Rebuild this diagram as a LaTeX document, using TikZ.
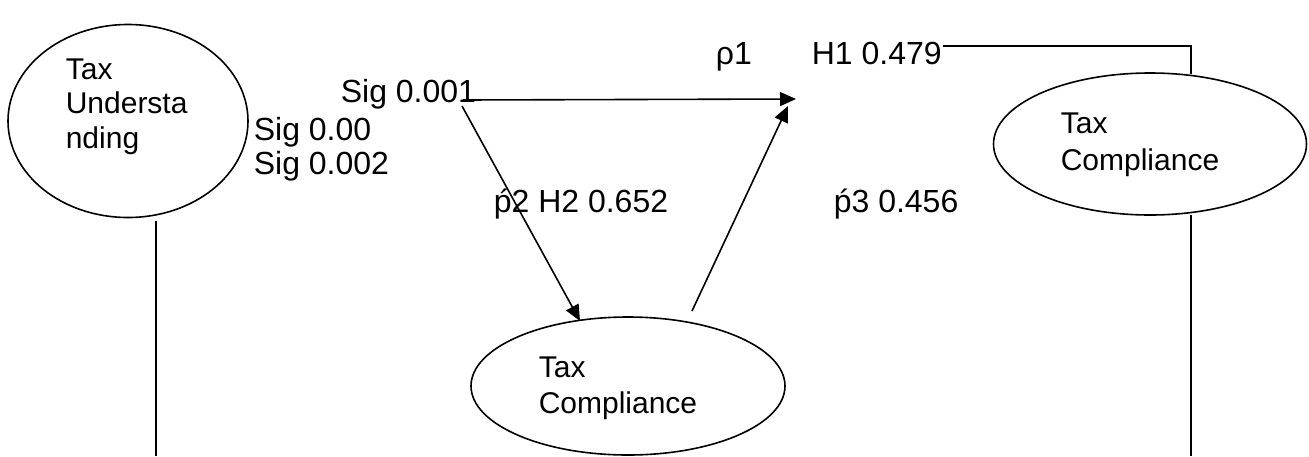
\documentclass[tikz,border=0pt]{standalone}
\usepackage{fontspec}
\setmainfont{Liberation Sans}
\usetikzlibrary{shapes.geometric,arrows.meta}
\begin{document}
\begin{tikzpicture}[x=1pt,y=-1pt, line width=1.6pt,
  lbl/.style={anchor=base west, inner sep=0pt, font=\fontsize{32}{35}\selectfont},
  etxt/.style={anchor=base west, inner sep=0pt, font=\fontsize{30}{35}\selectfont},
  oval/.style={draw, ellipse, inner sep=0pt, line width=1.6pt},
  arr/.style={-{Triangle[length=16pt,width=14pt]}},
  conn/.style={line width=1.6pt}]
\useasboundingbox (0,0) rectangle (1309,456);
% ovals
\node[oval, minimum width=240pt, minimum height=193pt] (tu) at (128,121) {};
\node[oval, minimum width=313pt, minimum height=142pt] (tcr) at (1150,144) {};
\node[oval, minimum width=314pt, minimum height=138pt] (tcb) at (628,386) {};
% oval texts
\node[etxt] (tu1) at (65,79) {Tax};
\node[etxt] (tu2) at (65,113) {Understa};
\node[etxt] (tu3) at (65,148) {nding};
\node[etxt] (tcr1) at (1060,133) {Tax};
\node[etxt] (tcr2) at (1060,170) {Compliance};
\node[etxt] (tcb1) at (538,377) {Tax};
\node[etxt] (tcb2) at (538,413) {Compliance};
% labels
\node[lbl] (s1) at (253,140) {Sig 0.00};
\node[lbl] (s2) at (253,174) {Sig 0.002};
\node[lbl] (s3) at (340,102) {Sig 0.001};
\node[lbl] (rho) at (715,64) {ρ1};
\node[lbl] (h1) at (811,64) {H1 0.479};
\node[lbl] (p2) at (493,212) {ṕ2 H2 0.652};
\node[lbl] (p3) at (833,212) {ṕ3 0.456};
% coordinates
\coordinate (a1s) at (463,100);
\coordinate (a1e) at (796,99);
\coordinate (a2s) at (462,106);
\coordinate (a2e) at (580,321);
\coordinate (a3s) at (692,311);
\coordinate (a3e) at (788,106);
\coordinate (h1e) at (943,46);
\coordinate (rc) at (1191,46);
\coordinate (rtop) at (1191,74);
\coordinate (rbot) at (1191,215);
\coordinate (rend) at (1191,456);
\coordinate (lt) at (156,221);
\coordinate (lend) at (156,456);
% connectors
\draw[arr] (a1s) -- (a1e);
\draw[arr] (a2s) -- (a2e);
\draw[arr] (a3s) -- (a3e);
\draw[conn] (h1e) -- (rc) -- (rtop);
\draw[conn] (rbot) -- (rend);
\draw[conn] (lt) -- (lend);
\end{tikzpicture}
\end{document}
